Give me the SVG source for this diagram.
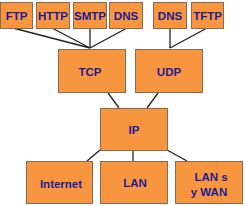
<svg xmlns="http://www.w3.org/2000/svg" width="245" height="206" viewBox="0 0 245 206">
<style>
.box{fill:#F7963F;stroke:#8a6a50;stroke-width:1}
.t{font-family:"Liberation Sans",Arial,sans-serif;font-weight:bold;font-size:11.5px;fill:#1c1c96;text-anchor:middle}
.c line{stroke:#222;stroke-width:1.3}
</style>
<rect width="245" height="206" fill="#fff"/>
<g class="c" id="connectors">
<line x1="13" y1="28" x2="90" y2="48"/>
<line x1="52" y1="28" x2="90" y2="48"/>
<line x1="90" y1="28" x2="90" y2="48"/>
<line x1="127" y1="28" x2="90" y2="48"/>
<line x1="170" y1="28" x2="170" y2="48"/>
<line x1="207" y1="28" x2="170" y2="48"/>
<line x1="108" y1="93" x2="119" y2="108"/>
<line x1="158" y1="93" x2="147" y2="108"/>
<line x1="100" y1="150" x2="87" y2="161"/>
<line x1="133" y1="151" x2="133" y2="161"/>
<line x1="167" y1="150" x2="187" y2="161"/>
</g>
<g id="ftp"><rect class="box" x="0.5" y="2.5" width="32" height="26"/><text class="t" x="16.5" y="19.5">FTP</text></g>
<g id="http"><rect class="box" x="36.5" y="2.5" width="33" height="26"/><text class="t" x="53" y="19.5">HTTP</text></g>
<g id="smtp"><rect class="box" x="73.5" y="2.5" width="33" height="26"/><text class="t" x="90" y="19.5">SMTP</text></g>
<g id="dns1"><rect class="box" x="109.5" y="2.5" width="33" height="26"/><text class="t" x="126" y="19.5">DNS</text></g>
<g id="dns2"><rect class="box" x="153.5" y="2.5" width="33" height="26"/><text class="t" x="170" y="19.5">DNS</text></g>
<g id="tftp"><rect class="box" x="191.5" y="2.5" width="32" height="26"/><text class="t" x="207.5" y="19.5">TFTP</text></g>
<g id="tcp"><rect class="box" x="58.5" y="49.5" width="67" height="43"/><text class="t" x="90" y="76">TCP</text></g>
<g id="udp"><rect class="box" x="135.5" y="49.5" width="67" height="43"/><text class="t" x="169" y="76">UDP</text></g>
<g id="ip"><rect class="box" x="100.5" y="108.5" width="67" height="42"/><text class="t" x="134" y="134">IP</text></g>
<g id="internet"><rect class="box" x="26.5" y="161.5" width="66" height="42"/><text class="t" x="61" y="188">Internet</text></g>
<g id="lan"><rect class="box" x="100.5" y="161.5" width="67" height="42"/><text class="t" x="135" y="187">LAN</text></g>
<g id="lanwan"><rect class="box" x="175.5" y="161.5" width="67" height="42"/><text class="t" x="211" y="181">LAN s</text><text class="t" x="209" y="196">y WAN</text></g>
</svg>
